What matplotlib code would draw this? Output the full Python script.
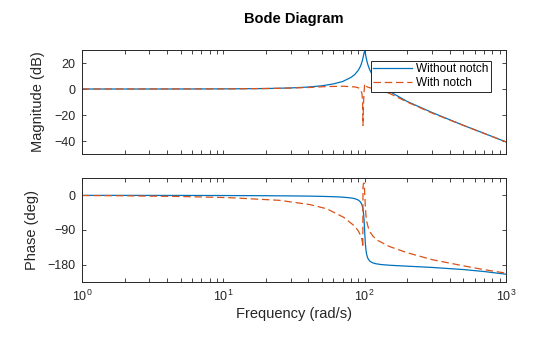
import numpy as np
import matplotlib
matplotlib.use("Agg")
import matplotlib.pyplot as plt
from matplotlib.ticker import LogLocator, FixedLocator, NullFormatter

plt.rcParams['font.family'] = ['Liberation Sans', 'DejaVu Sans']
plt.rcParams['mathtext.default'] = 'regular'

# plant alone
freq_plant = [1, 2, 5, 10, 20, 30, 40, 50, 60, 70, 80, 85, 90, 93, 95, 96, 97, 98, 99,
              100, 101, 102, 103, 105, 108, 110, 115, 120, 130, 150, 200, 300, 500, 700, 1000]
mag_plant = [0, 0, 0.02, 0.09, 0.35, 0.82, 1.5, 2.5, 3.9, 5.8, 8.9, 11.1, 14.3, 17.1, 19.7, 21.3, 23.3, 25.5, 27.8,
             28.9, 27.6, 25.3, 22.9, 19.2, 15.4, 13.5, 9.8, 7.1, 3.2, -1.9, -9.6, -18.1, -28.0, -34.1, -40.7]
phase_plant = [-0.1, -0.1, -0.25, -0.5, -1.0, -1.5, -2.0, -2.7, -3.5, -4.7, -6.7, -8.6, -12.1, -16.4, -21.8, -26.4,
               -33.2, -44.3, -63.4, -92.7, -121.6, -140.4, -151.4, -162.6, -169.7, -172.2, -175.8, -177.6,
               -179.6, -181.5, -183.9, -187.2, -192.7, -197.8, -204.8]

# plant with notch filter
freq_notch = [1, 2, 5, 11, 25, 41, 54, 71, 85, 90, 93, 95.5, 96.5, 97.0, 97.3, 98, 99, 99.5, 100, 101,
              102, 103, 105, 107, 110, 115, 125, 150, 200, 300, 500, 700, 1000]
mag_notch = [0, 0, 0.05, 0.1, 0.5, 1.2, 1.9, 2.1, 1.6, 1.0, 0, -3, -8, -16, -28, -12, -3, 1, 4, 3.5,
             2.5, 2, 1.5, 1.2, 0.8, 0.5, -0.6, -3.4, -10.0, -18.5, -28.0, -34.2, -40.7]
phase_notch = [-0.5, -1.2, -3, -6, -13, -24, -35, -57, -80, -92, -102, -114, -122, -135, 20, 30, 32, 25, 5, -25,
               -50, -65, -78, -88, -97, -107, -118, -133, -149, -167, -183, -193, -202]

blue = '#0072BD'
orange = '#D95319'
dark = '#262626'

fig = plt.figure(figsize=(5.6, 3.37), dpi=100)
ax1 = fig.add_axes([82/560, 1 - 154/337, 424/560, 104/337])
ax2 = fig.add_axes([82/560, 1 - 282/337, 424/560, 104/337])

ax1.semilogx(freq_plant, mag_plant, color=blue, lw=0.9, label='Without notch')
ax1.semilogx(freq_notch, mag_notch, color=orange, lw=0.9, dashes=(6, 3), label='With notch')
ax2.semilogx(freq_plant, phase_plant, color=blue, lw=0.9)
ax2.semilogx(freq_notch, phase_notch, color=orange, lw=0.9, dashes=(6, 3))

ax1.set_ylim(-50, 30)
ax1.yaxis.set_major_locator(FixedLocator([-40, -20, 0, 20]))
ax2.set_ylim(-225, 45)
ax2.yaxis.set_major_locator(FixedLocator([-180, -90, 0]))

for ax in (ax1, ax2):
    ax.set_xlim(1, 1000)
    ax.xaxis.set_major_locator(LogLocator(base=10, numticks=10))
    ax.xaxis.set_minor_locator(LogLocator(base=10, subs=np.arange(2, 10), numticks=20))
    ax.tick_params(which='both', direction='in', top=True, right=True, length=3,
                   width=0.6, color=dark, labelcolor=dark, labelsize=9, pad=4.5)
    for s in ax.spines.values():
        s.set_color(dark)
        s.set_linewidth(0.7)

ax1.xaxis.set_major_formatter(NullFormatter())
ax2.tick_params(axis='x', pad=5)

ax1.set_ylabel('Magnitude (dB)', fontsize=10.5, color=dark)
ax1.yaxis.set_label_coords(-0.087, 0.5)
ax2.set_ylabel('Phase (deg)', fontsize=10.5, color=dark)
ax2.yaxis.set_label_coords(-0.101, 0.5)
ax2.set_xlabel('Frequency (rad/s)', fontsize=10.5, color=dark, va='top')
ax2.xaxis.set_label_coords(0.5, -0.24)

fig.text(294/560, 1 - 19/337, 'Bode Diagram', ha='center', va='center',
         fontsize=10.5, fontweight='bold', color='black')

leg = ax1.legend(loc='upper right', bbox_to_anchor=(0.964, 0.894), borderaxespad=0,
                 fontsize=8.5, fancybox=False, framealpha=1, edgecolor=dark,
                 borderpad=0.2, labelspacing=0.15, handlelength=3.3, handletextpad=0.35)
leg.get_frame().set_linewidth(0.7)

fig.savefig('out.png', dpi=100)
